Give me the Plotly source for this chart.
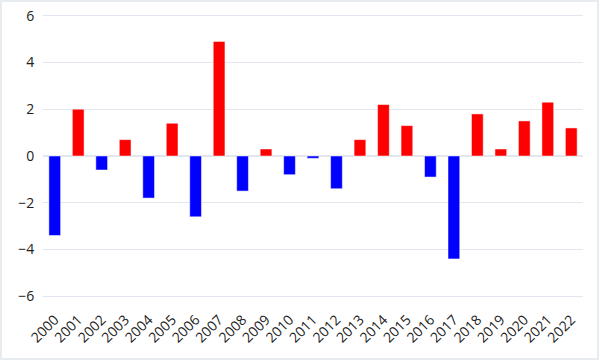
import plotly.graph_objects as go

years = [str(y) for y in range(2000, 2023)]
values = [-3.4, 2.0, -0.6, 0.7, -1.8, 1.4, -2.6, 4.9, -1.5, 0.3, -0.8, -0.1,
          -1.4, 0.7, 2.2, 1.3, -0.9, -4.4, 1.8, 0.3, 1.5, 2.3, 1.2]
colors = ["red" if v >= 0 else "blue" for v in values]

W, H = 600, 360
ml, mr, mt, mb = 43, 17, 4, 52
pw, ph = W - ml - mr, H - mt - mb

fig = go.Figure(go.Bar(x=years, y=values,
                       marker=dict(color=colors, line=dict(color="white", width=0.5))))
fig.update_layout(
    template="plotly_white",
    width=W, height=H, autosize=False,
    margin=dict(l=ml, r=mr, t=mt, b=mb),
    bargap=0.5,
    showlegend=False,
    font=dict(family="Open Sans, verdana, arial, sans-serif", size=14, color="#222"),
    shapes=[dict(type="rect", xref="paper", yref="paper",
                 x0=-(ml - 1) / pw, x1=1 + (mr - 2) / pw,
                 y0=-(mb - 1) / ph, y1=1 + (mt - 1) / ph,
                 line=dict(color="#E8EBF0", width=2), layer="below")],
)
fig.update_xaxes(tickangle=-45, showgrid=False, automargin=False)
fig.update_yaxes(range=[-6.5, 6.5], tickvals=[-6, -4, -2, 0, 2, 4, 6],
                 ticks="outside", ticklen=5, tickcolor="rgba(0,0,0,0)",
                 gridcolor="#E2E6EE", zerolinecolor="#E2E6EE", zerolinewidth=2,
                 automargin=False)
fig.write_html("out.html", config={"displayModeBar": False},
               post_script="document.body.style.margin='0';document.body.style.overflow='hidden';")
